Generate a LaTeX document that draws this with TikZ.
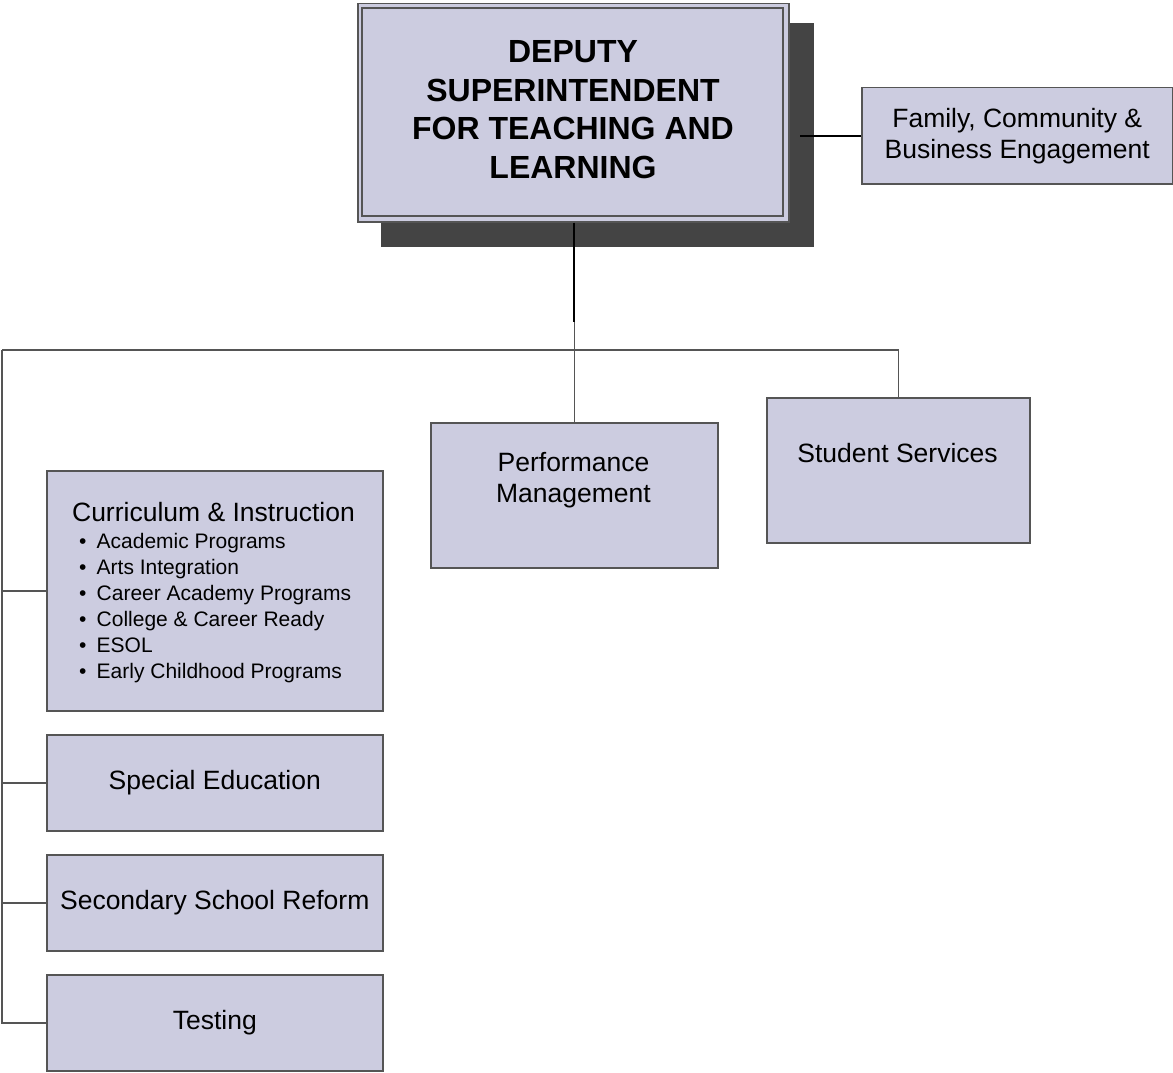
\documentclass[tikz,border=0pt]{standalone}
\usepackage{fontspec}
\setmainfont{Liberation Sans}
\definecolor{boxfill}{HTML}{CCCCE0}
\definecolor{shadowgray}{HTML}{444444}
\definecolor{linegray}{HTML}{555555}
\newcommand\curbullet{\makebox[17.7pt][l]{•}}
\begin{document}
\begin{tikzpicture}[x=1pt,y=-1pt,
  unitbox/.style={draw=linegray, line width=1.5pt, fill=boxfill, inner sep=0pt, anchor=north west},
  conn/.style={draw=linegray, line width=1.5pt},
  lbl/.style={font=\fontsize{26.5}{31}\selectfont, align=center, inner sep=0pt},
]
\useasboundingbox (0,0) rectangle (1173,1073);

% head box with shadow
\fill[shadowgray] (381,23) rectangle (814,247);
\node[unitbox, minimum width=431, minimum height=218] (main) at (357,3) {};
\draw[linegray, line width=1.2pt] (362,8) rectangle (783,216);
\node[font=\fontsize{32}{38.5}\selectfont\bfseries, align=center, inner sep=0pt] (title) at (573,109.5)
  {DEPUTY\\SUPERINTENDENT\\FOR TEACHING AND\\LEARNING};

% family box
\node[unitbox, lbl, minimum width=311, minimum height=96, anchor=north west] (fam) at (861,87)
  {Family, Community \&\\Business Engagement};
\coordinate (famstub) at (fam.west -| 800,0);
\draw[black, line width=1.5pt] (famstub) -- (fam.west);

% second row
\node[unitbox, minimum width=287, minimum height=145] (perf) at (430,422) {};
\node[lbl] (perft) at (573.5,480) {Performance\\Management};
\node[unitbox, minimum width=263, minimum height=145] (stu) at (766,397) {};
\node[lbl] (stut) at (897.5,453.5) {Student Services};

% left column
\node[unitbox, minimum width=336, minimum height=240] (cur) at (46,470) {};
\node[lbl] (curt) at (213.5,512) {Curriculum \& Instruction};
\node[anchor=west, align=left, inner sep=0pt, font=\fontsize{21}{26}\selectfont] (curlist) at (78.8,608.5)
  {\curbullet Academic Programs\\
   \curbullet Arts Integration\\
   \curbullet Career Academy Programs\\
   \curbullet College \& Career Ready\\
   \curbullet ESOL\\
   \curbullet Early Childhood Programs};
\node[unitbox, lbl, minimum width=336, minimum height=96] (sped) at (46,734) {Special Education};
\node[unitbox, lbl, minimum width=336, minimum height=96] (ssr) at (46,854) {Secondary School Reform};
\node[unitbox, lbl, minimum width=336, minimum height=96] (test) at (46,974) {Testing};

% connectors
\coordinate (top) at (perf.north |- main.south);
\coordinate (mid) at (perf.north |- 0,322);
\coordinate (bus) at (perf.north |- 0,350);
\coordinate (lt) at (2,350);
\coordinate (rt) at (stu.north |- bus);
\draw[black, line width=2pt] (top) -- (mid);
\draw[conn] (mid) -- (perf.north);
\draw[conn] (lt) -- (rt) -- (stu.north);
\draw[conn] (lt) -- (lt |- test.west) -- (test.west);
\draw[conn] (lt |- cur.west) -- (cur.west);
\draw[conn] (lt |- sped.west) -- (sped.west);
\draw[conn] (lt |- ssr.west) -- (ssr.west);
\end{tikzpicture}
\end{document}
